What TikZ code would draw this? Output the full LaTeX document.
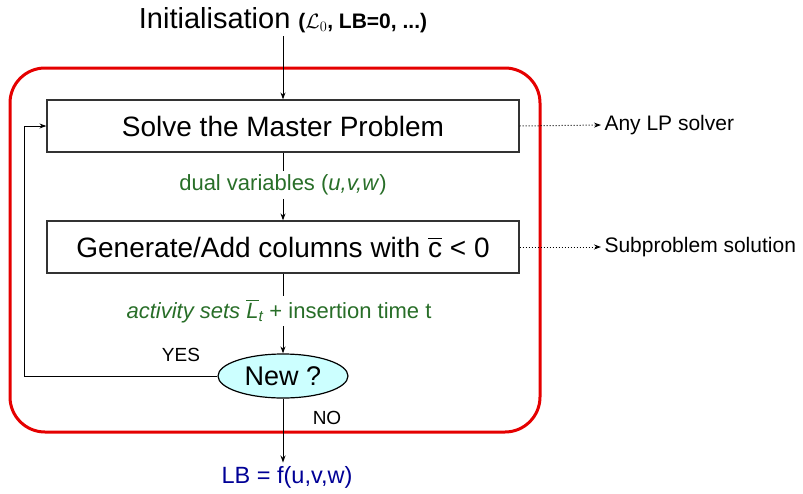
\documentclass[tikz,border=0pt]{standalone}
\usepackage{amsmath}
\usepackage{fontspec}
\setmainfont{Liberation Sans}
\usetikzlibrary{positioning, arrows.meta, shapes.geometric}
\definecolor{dualgreen}{RGB}{40,110,40}
\definecolor{lbblue}{RGB}{0,0,150}
\definecolor{newcyan}{RGB}{204,255,255}

\begin{document}
\begin{tikzpicture}[
    x=1pt, y=-1pt,
    node distance=20pt,
    box/.style={
        rectangle,
        draw=black!80, line width=1.2pt,
        fill=white,
        minimum width=472pt, minimum height=52pt,
        align=center, font=\fontsize{28}{32}\selectfont
    },
    test/.style={
        ellipse,
        draw=black, line width=1.2pt,
        fill=newcyan,
        minimum width=130pt, minimum height=44pt, inner sep=0pt,
        font=\fontsize{27}{30}\selectfont
    },
    flow/.style={font=\fontsize{22}{26}\selectfont, text=dualgreen},
    note/.style={font=\fontsize{21}{24}\selectfont},
    arrow/.style={-{Stealth[length=7pt, width=5pt]}, line width=1pt},
    line/.style={line width=1pt}
]
\useasboundingbox (0,0) rectangle (803,493);

% Outer loop frame
\node[draw=red!90!black, line width=3pt, rounded corners=35pt,
      minimum width=530pt, minimum height=364pt] (frame) at (275,250) {};

% Main column: master problem, pricing, test
\node[font=\fontsize{29}{32}\selectfont] (init) at (283,20)
    {Initialisation {\fontsize{21}{24}\selectfont\bfseries($\mathcal{L}_0$, LB=0, ...)}};
\node[box] (master) at (283,126) {Solve the Master Problem};
\node[box] (gen) at (283,247) {Generate/Add columns with $\overline{\text{c}}$ < 0};
\node[flow] (dual) at (283,185) {dual variables (\textit{u,v,w})};
\node[flow] (act) at (279,311) {\textit{activity sets} $\overline{\textit{L}}_{\textit{t}}$ + insertion time t};
\node[test] (new) at (283,376) {New ?};
\node[font=\fontsize{23.5}{28}\selectfont, text=lbblue] (lb) at (287,477) {LB = f(u,v,w)};

% Side notes
\node[note, anchor=west] (lp) at (601,125) {Any LP solver};
\node[note, anchor=west] (sub) at (601,247) {Subproblem solution};

% Answers
\node[font=\fontsize{19}{22}\selectfont] (yes) at (181,355) {YES};
\node[font=\fontsize{19}{22}\selectfont] (no) at (327,418) {NO};

% Arrows
\draw[arrow] (init.south -| master) -- (master);
\draw[line] (master) -- (dual);
\draw[arrow] (dual) -- (gen);
\draw[line] (gen) -- (act.north -| gen);
\draw[arrow] (act.south -| new) -- (new);
\draw[arrow] (new) -- (lb.north -| new);
\draw[arrow] (new.west) -| ([xshift=-22pt]master.west) -- (master.west);

% Dotted links to the solvers
\draw[arrow, dotted] (master.east) -- (lp.west);
\draw[arrow, dotted] (gen.east) -- (sub.west);

\end{tikzpicture}
\end{document}
